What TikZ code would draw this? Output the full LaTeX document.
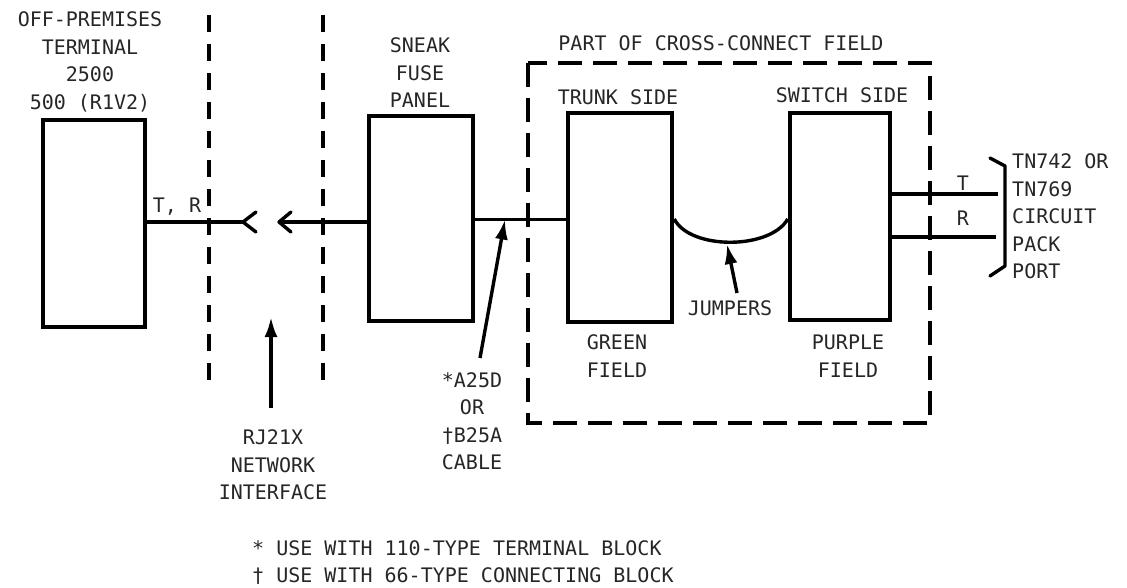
\documentclass[tikz,border=0pt]{standalone}
\usepackage{fontspec}
\setmonofont{DejaVu Sans Mono}
\usetikzlibrary{arrows.meta}
\tikzset{
  lbl/.style={font=\ttfamily\fontsize{20}{27.5}\selectfont, inner sep=0pt, align=center, text=black!85},
  blk/.style={draw, line width=4.5pt, inner sep=0pt},
  wire/.style={line width=3.4pt},
  fence/.style={line width=3.6pt, dash pattern=on 17pt off 12pt},
  xbox/.style={line width=3.6pt, dash pattern=on 24pt off 11pt},
  pointer/.style={line width=3.4pt, -{Latex[length=20pt,width=13pt]}},
  chev/.style={line width=3.4pt, line cap=round, line join=round}
}
\begin{document}
\begin{tikzpicture}[x=1pt,y=-1pt]
\useasboundingbox (0,0) rectangle (1127,587);

% boxes
\node[blk, minimum width=102pt, minimum height=207pt] (term) at (94,223.5) {};
\node[blk, minimum width=104pt, minimum height=205pt] (sneak) at (421,218.5) {};
\node[blk, minimum width=104pt, minimum height=209pt] (trunk) at (620,217.5) {};
\node[blk, minimum width=100pt, minimum height=207pt] (switch) at (840,216.5) {};

% network interface fences
\coordinate (f1t) at (209,15); \coordinate (f1b) at (209,382);
\coordinate (f2t) at (323,15); \coordinate (f2b) at (323,382);
\draw[fence] (f1t) -- (f1b);
\draw[fence] (f2t) -- (f2b);

% cross-connect field
\coordinate (xtl) at (528,63); \coordinate (xbr) at (930,423);
\draw[xbox] (xtl) rectangle (xbr);

% T,R wire to chevron
\coordinate (ch1) at (243,222);
\coordinate (ch1a) at (256,212); \coordinate (ch1b) at (256,232);
\draw[wire] (term.east |- ch1) -- (ch1);
\draw[chev] (ch1a) -- (ch1) -- (ch1b);

% arrow from sneak fuse panel
\coordinate (ch2) at (279,222);
\coordinate (ch2a) at (291,212); \coordinate (ch2b) at (291,232);
\draw[wire] (sneak.west |- ch2) -- (ch2);
\draw[chev] (ch2a) -- (ch2) -- (ch2b);

% cable
\coordinate (cab) at (505,219.5);
\draw[wire] (sneak.east |- cab) -- (trunk.west |- cab);

% jumper
\coordinate (jl) at (trunk.east |- 0,219);
\coordinate (jr) at (switch.west |- 0,219);
\draw[wire] (jl) .. controls (690,250) and (770,250) .. (jr);

% T and R
\coordinate (tend) at (998,194); \coordinate (rend) at (996,237);
\draw[wire] (switch.east |- tend) -- (tend);
\draw[wire] (switch.east |- rend) -- (rend);

% bracket
\coordinate (b1) at (990,158); \coordinate (b2) at (1005,166);
\coordinate (b3) at (1005,266); \coordinate (b4) at (990,276);
\draw[chev] (b1) -- (b2) -- (b3) -- (b4);

% labels
\node[lbl] (tOff) at (90,62) {OFF-PREMISES\\TERMINAL\\2500\\500 (R1V2)};
\node[lbl] (tTR) at (177,207) {T, R};
\node[lbl] (tSneak) at (420,73) {SNEAK\\FUSE\\PANEL};
\node[lbl] (tPart) at (721,43) {PART OF CROSS-CONNECT FIELD};
\node[lbl] (tTrunk) at (618,97) {TRUNK SIDE};
\node[lbl] (tSwitch) at (842,95) {SWITCH SIDE};
\node[lbl] (tT) at (963,183) {T};
\node[lbl] (tR) at (963,218) {R};
\node[lbl, align=left, anchor=west] (tTN) at (1012,216.5) {TN742 OR\\TN769\\CIRCUIT\\PACK\\PORT};
\node[lbl] (tJump) at (730,308) {JUMPERS};
\node[lbl] (tGreen) at (617,356) {GREEN\\FIELD};
\node[lbl] (tPurple) at (848,356) {PURPLE\\FIELD};
\node[lbl] (tRJ) at (273,465) {RJ21X\\NETWORK\\INTERFACE};
\node[lbl] (tCab) at (472,421) {*A25D\\OR\\†B25A\\CABLE};
\node[lbl, align=left, anchor=west] (tFoot) at (252,562.5) {* USE WITH 110-TYPE TERMINAL BLOCK\\† USE WITH 66-TYPE CONNECTING BLOCK};

% pointer arrows
\coordinate (nis) at (271,408);
\draw[pointer] (nis) -- (271,317);
\coordinate (cas) at (480,358);
\draw[pointer] (cas) -- (cab);
\coordinate (jus) at (737,293);
\coordinate (jut) at (727,244);
\draw[pointer] (jus) -- (jut);
\end{tikzpicture}
\end{document}
